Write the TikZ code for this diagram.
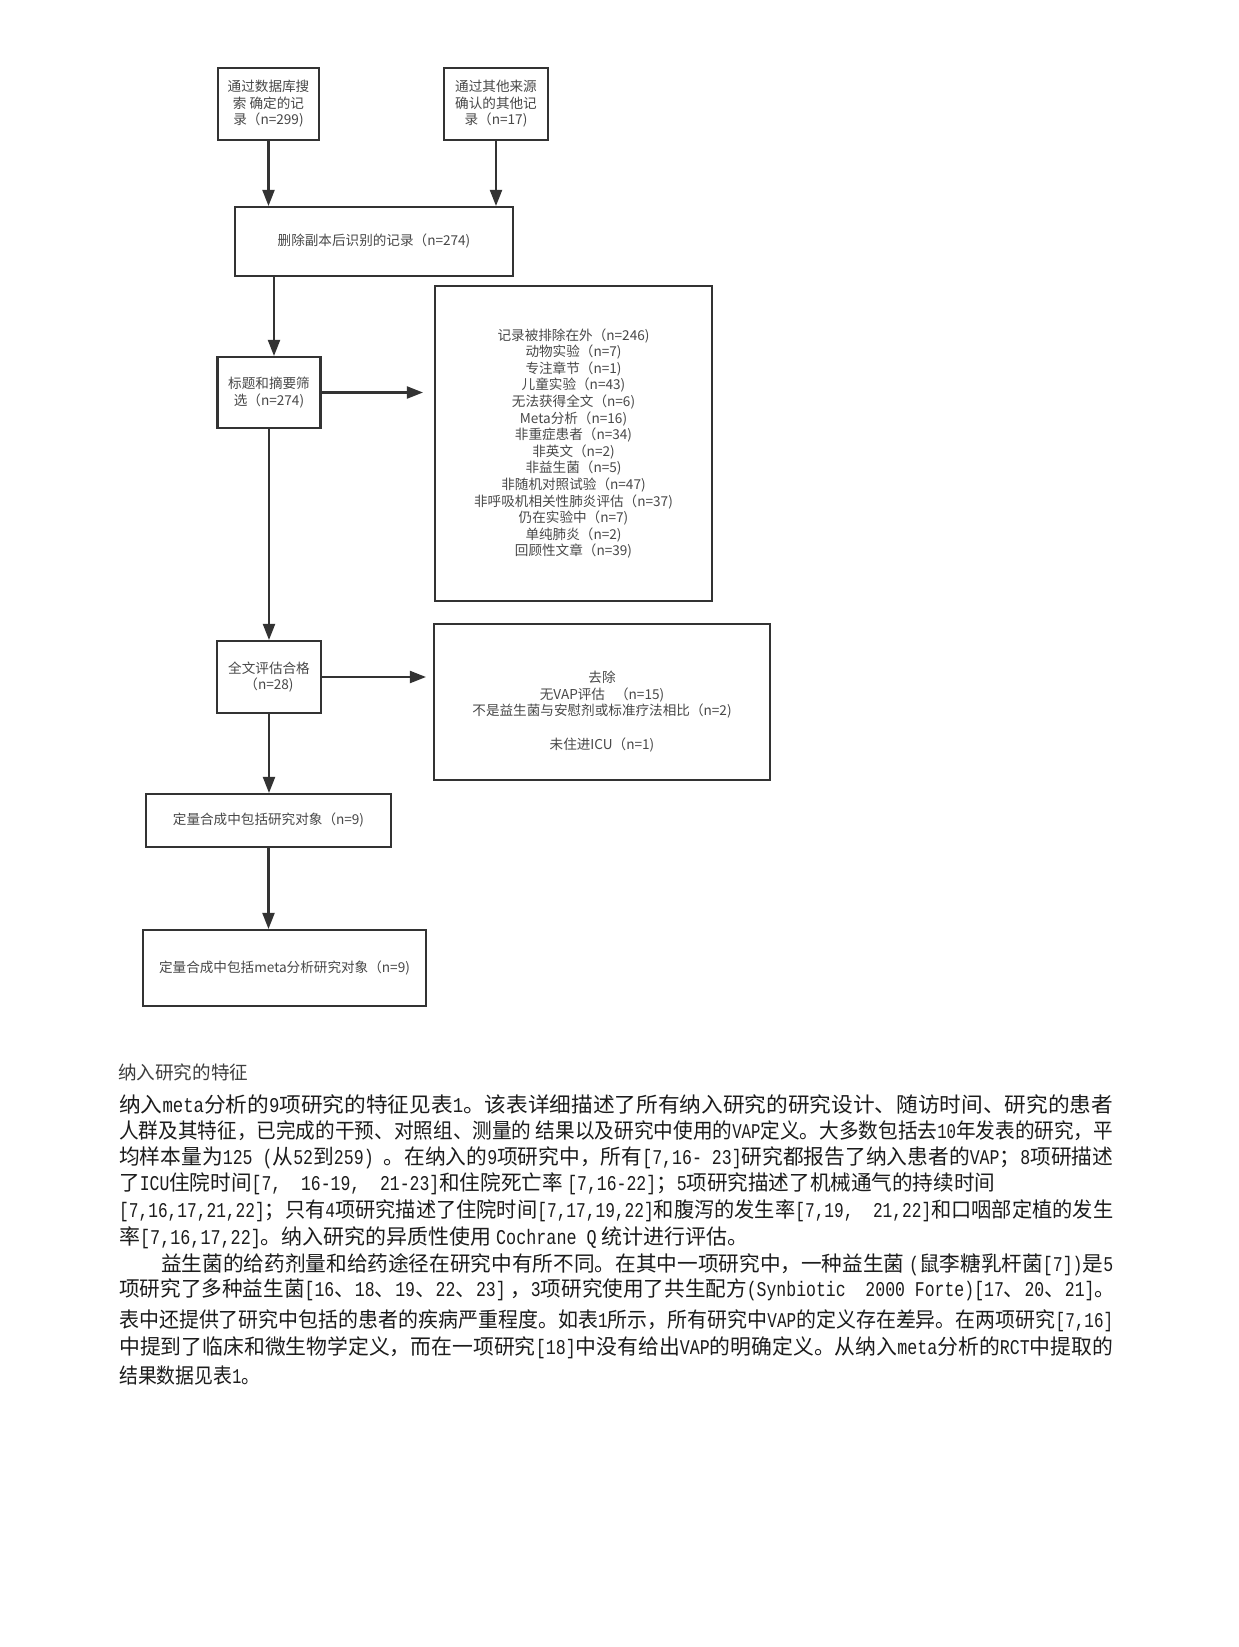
\documentclass[tikz,border=0pt]{standalone}
\usepackage{fontspec}
\usepackage{graphicx}
\setmainfont{Noto Sans CJK SC}
\newfontfamily\latfont{Liberation Mono}
\usetikzlibrary{arrows.meta,calc}
\definecolor{ln}{HTML}{333333}
\definecolor{fc}{HTML}{484848}
\definecolor{bt}{HTML}{1C1C1C}
\newcommand\lat[1]{\scalebox{0.8}[1]{\latfont #1}}
\begin{document}
\begin{tikzpicture}[x=1pt,y=-1pt]
\tikzset{
 flowbox/.style={draw=ln,line width=2.1pt,text=fc,font=\fontsize{13.6}{16.6}\selectfont,align=center,inner sep=0pt},
 flowtext/.style={text=fc,font=\fontsize{13.6}{16.6}\selectfont,align=center,inner sep=0pt},
 arr/.style={draw=ln,line width=2.1pt,-{Triangle[length=16pt,width=12pt]}},
 bodyline/.style={anchor=west,inner sep=0pt,text=bt,font=\fontsize{21}{25}\selectfont}
}
\fill[white] (0,0) rectangle (1239,1647);
\useasboundingbox (0,0) rectangle (1239,1647);

% flowchart boxes
\node[flowbox,minimum width=101pt,minimum height=72pt] (b1) at (268.5,104) {通过数据库搜\\索 确定的记\\录（n=299)};
\node[flowbox,minimum width=104pt,minimum height=72pt] (b2) at (496,104) {通过其他来源\\确认的其他记\\录（n=17)};
\node[flowbox,minimum width=278pt,minimum height=69pt] (b3) at (374,241.5) {删除副本后识别的记录（n=274)};
\node[flowbox,minimum width=103pt,minimum height=71pt] (b4) at (269,392.5) {标题和摘要筛\\选（n=274)};
\node[flowbox,minimum width=277pt,minimum height=315pt] (b5) at (573.5,443.5) {记录被排除在外（n=246)\\动物实验（n=7)\\专注章节（n=1)\\儿童实验（n=43)\\无法获得全文（n=6)\\Meta分析（n=16)\\非重症患者（n=34)\\非英文（n=2)\\非益生菌（n=5)\\非随机对照试验（n=47)\\非呼吸机相关性肺炎评估（n=37)\\仍在实验中（n=7)\\单纯肺炎（n=2)\\回顾性文章（n=39)};
\node[flowbox,minimum width=104pt,minimum height=72pt] (b6) at (269,677) {全文评估合格\\（n=28)};
\node[flowbox,minimum width=336pt,minimum height=156pt] (b7) at (602,702) {};
\node[flowtext] (b7t) at (602,711.5) {去除\\无VAP评估\hspace{10pt}（n=15)\\不是益生菌与安慰剂或标准疗法相比（n=2)\\[16.6pt]未住进ICU（n=1)};
\node[flowbox,minimum width=245pt,minimum height=53pt] (b8) at (268.5,820.5) {定量合成中包括研究对象（n=9)};
\node[flowbox,minimum width=283pt,minimum height=76pt] (b9) at (284.5,968) {定量合成中包括meta分析研究对象（n=9)};

% connectors
\coordinate (b4in) at ($(b4.north)+(5,0)$);
\coordinate (b5in) at ($(b5.west |- b4.east)+(-11,0)$);
\coordinate (b7in) at ($(b7.west |- b6.east)+(-7,0)$);
\draw[arr] (b1.south) -- (b1.south |- b3.north);
\draw[arr] (b2.south) -- (b2.south |- b3.north);
\draw[arr] (b4in |- b3.south) -- (b4in);
\draw[arr] (b4.east) -- (b5in);
\draw[arr] (b4.south) -- (b6.north);
\draw[arr] (b6.east) -- (b7in);
\draw[arr] (b6.south) -- (b6.south |- b8.north);
\draw[arr] (b8.south) -- (b8.south |- b9.north);

% body text
\node[anchor=west,inner sep=0pt,text=bt!85,font=\fontsize{18.5}{22}\selectfont] (t0) at (118,1072) {\resizebox{130pt}{\height}{纳入研究的特征}};
\node[bodyline] (t1) at (119,1104) {\resizebox{994pt}{\height}{纳入\lat{meta}分析的\lat{9}项研究的特征见表\lat{1}。该表详细描述了所有纳入研究的研究设计、随访时间、研究的患者}};
\node[bodyline] (t2) at (119,1131) {\resizebox{994pt}{\height}{人群及其特征，已完成的干预、对照组、测量的 结果以及研究中使用的\lat{VAP}定义。大多数包括去\lat{10}年发表的研究，平}};
\node[bodyline] (t3) at (119,1158) {\resizebox{994pt}{\height}{均样本量为\lat{125 (}从\lat{52}到\lat{259) }。在纳入的\lat{9}项研究中，所有\lat{[7,16- 23]}研究都报告了纳入患者的\lat{VAP}；\lat{8}项研描述}};
\node[bodyline] (t4) at (119,1184) {\resizebox{876pt}{\height}{了\lat{ICU}住院时间\lat{[7,\ \ 16-19,\ \ 21-23]}和住院死亡率 \lat{[7,16-22]}；\lat{5}项研究描述了机械通气的持续时间}};
\node[bodyline] (t5) at (119,1211) {\resizebox{994pt}{\height}{\lat{[7,16,17,21,22]}；只有\lat{4}项研究描述了住院时间\lat{[7,17,19,22]}和腹泻的发生率\lat{[7,19,\ \ 21,22]}和口咽部定植的发生}};
\node[bodyline] (t6) at (119,1238) {\resizebox{629pt}{\height}{率\lat{[7,16,17,22]}。纳入研究的异质性使用 \lat{Cochrane Q} 统计进行评估。}};
\node[bodyline] (t7) at (161,1265) {\resizebox{952pt}{\height}{益生菌的给药剂量和给药途径在研究中有所不同。在其中一项研究中，一种益生菌 \lat{(}鼠李糖乳杆菌\lat{[7])}是\lat{5}}};
\node[bodyline] (t8) at (119,1290) {\resizebox{996pt}{\height}{项研究了多种益生菌\lat{[16}、\lat{18}、\lat{19}、\lat{22}、\lat{23]} ，\lat{3}项研究使用了共生配方\lat{(Synbiotic\ \ 2000 Forte)[17}、\lat{20}、\lat{21]}。}};
\node[bodyline] (t9) at (119,1321) {\resizebox{994pt}{\height}{表中还提供了研究中包括的患者的疾病严重程度。如表\lat{1}所示，所有研究中\lat{VAP}的定义存在差异。在两项研究\lat{[7,16]}}};
\node[bodyline] (t10) at (119,1348) {\resizebox{994pt}{\height}{中提到了临床和微生物学定义，而在一项研究\lat{[18]}中没有给出\lat{VAP}的明确定义。从纳入\lat{meta}分析的\lat{RCT}中提取的}};
\node[bodyline] (t11) at (119,1376) {\resizebox{141pt}{\height}{结果数据见表\lat{1}。}};
\end{tikzpicture}
\end{document}
